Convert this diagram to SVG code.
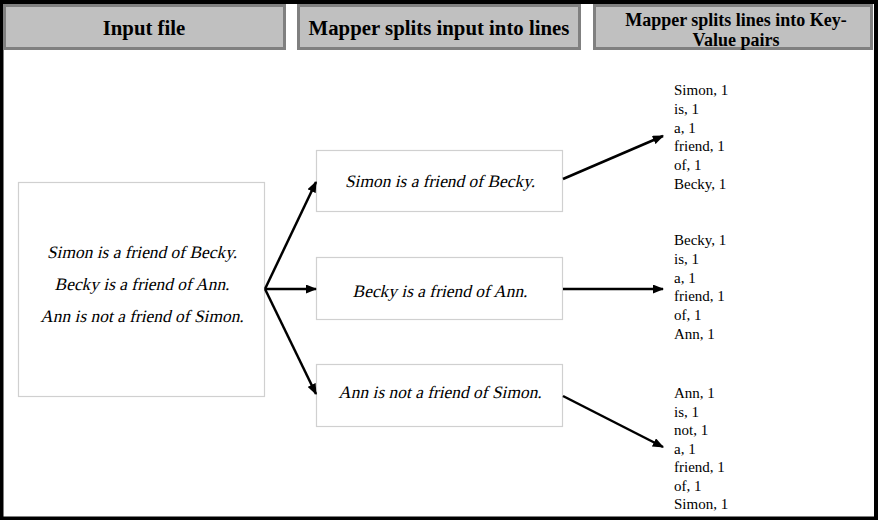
<svg xmlns="http://www.w3.org/2000/svg" width="878" height="520" viewBox="0 0 878 520">
<style>
.hdr{fill:#c0c0c0;stroke:#808080;stroke-width:3}
.ht{font-family:"Liberation Serif",serif;font-weight:bold;font-size:20.8px;fill:#000;text-anchor:middle}
.ht2{font-family:"Liberation Serif",serif;font-weight:bold;font-size:18px;fill:#000;text-anchor:middle}
.box{fill:#fff;stroke:#d0d0d0;stroke-width:1.2}
.it{font-family:"Liberation Serif",serif;font-size:17.4px;fill:#000;text-anchor:middle}
.kv{font-family:"Liberation Serif",serif;font-size:15px;fill:#000}
.con{stroke:#000;stroke-width:2.5;fill:none;marker-end:url(#ah)}
</style>
<defs>
<marker id="ah" viewBox="0 0 10 8" refX="9" refY="4" markerWidth="4.6" markerHeight="3.6" orient="auto" markerUnits="strokeWidth">
<path d="M0,0 L10,4 L0,8 z" fill="#000"/>
</marker>
</defs>
<rect x="0" y="0" width="878" height="520" fill="#fff"/>
<rect x="1.5" y="2" width="874.5" height="516.5" fill="none" stroke="#000" stroke-width="4"/>
<g id="h1"><rect class="hdr" x="4.5" y="5.5" width="280" height="43"/><text class="ht" x="144" y="35">Input file</text></g>
<g id="h2"><rect class="hdr" x="298.5" y="5.5" width="281" height="43"/><text class="ht" x="439" y="35">Mapper splits input into lines</text></g>
<g id="h3"><rect class="hdr" x="594.5" y="5.5" width="277" height="43"/><text class="ht2" x="736" y="26">Mapper splits lines into Key-</text><text class="ht2" x="736" y="46">Value pairs</text></g>
<g id="input"><rect class="box" x="18.5" y="182.5" width="246" height="214"/>
<text class="it" transform="translate(142,258) skewX(-13)">Simon is a friend of Becky.</text>
<text class="it" transform="translate(142,290) skewX(-13)">Becky is a friend of Ann.</text>
<text class="it" transform="translate(142,322) skewX(-13)">Ann is not a friend of Simon.</text></g>
<g id="line1"><rect class="box" x="316.5" y="150.5" width="246" height="61"/><text class="it" transform="translate(440,187) skewX(-13)">Simon is a friend of Becky.</text></g>
<g id="line2"><rect class="box" x="316.5" y="257.5" width="246" height="62"/><text class="it" transform="translate(440,297) skewX(-13)">Becky is a friend of Ann.</text></g>
<g id="line3"><rect class="box" x="316.5" y="364.5" width="246" height="62"/><text class="it" transform="translate(440,398) skewX(-13)">Ann is not a friend of Simon.</text></g>
<g id="kv1" class="kv"><text x="674" y="95">Simon, 1</text><text x="674" y="113.8">is, 1</text><text x="674" y="132.6">a, 1</text><text x="674" y="151.4">friend, 1</text><text x="674" y="170.2">of, 1</text><text x="674" y="189">Becky, 1</text></g>
<g id="kv2" class="kv"><text x="674" y="245">Becky, 1</text><text x="674" y="263.8">is, 1</text><text x="674" y="282.6">a, 1</text><text x="674" y="301.4">friend, 1</text><text x="674" y="320.2">of, 1</text><text x="674" y="339">Ann, 1</text></g>
<g id="kv3" class="kv"><text x="674" y="398">Ann, 1</text><text x="674" y="416.5">is, 1</text><text x="674" y="435">not, 1</text><text x="674" y="453.5">a, 1</text><text x="674" y="472">friend, 1</text><text x="674" y="490.5">of, 1</text><text x="674" y="509">Simon, 1</text></g>
<g id="connectors">
<line class="con" x1="265" y1="289" x2="316" y2="182"/>
<line class="con" x1="265" y1="289" x2="316" y2="289"/>
<line class="con" x1="265" y1="289" x2="316" y2="394"/>
<line class="con" x1="563" y1="179" x2="663" y2="136"/>
<line class="con" x1="563" y1="289" x2="663" y2="289"/>
<line class="con" x1="563" y1="396" x2="663" y2="447"/>
</g>
</svg>
